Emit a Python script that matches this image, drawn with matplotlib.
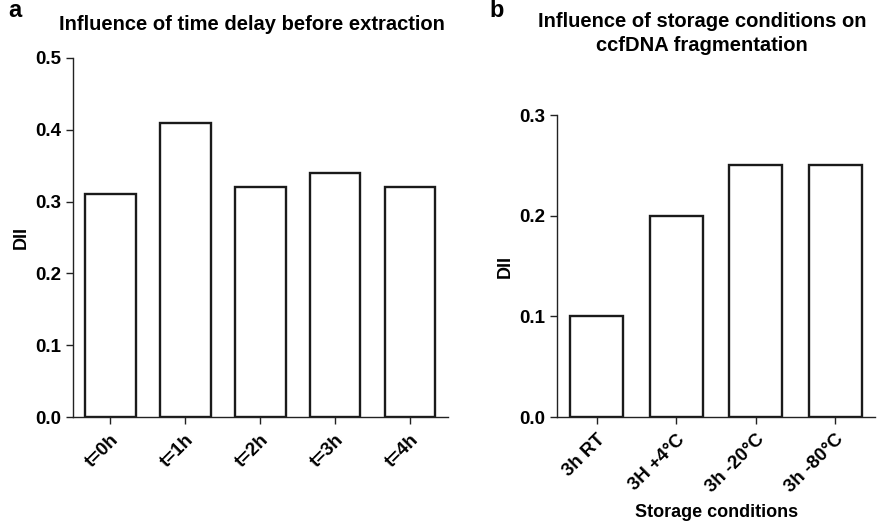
import numpy as np
import matplotlib.pyplot as plt

plt.rcParams['font.family'] = ['Liberation Sans', 'DejaVu Sans']
plt.rcParams['font.weight'] = 'bold'

# Dane
time_labels = ['t=0h', 't=1h', 't=2h', 't=3h', 't=4h']
time_dii = [0.31, 0.41, 0.32, 0.34, 0.32]

storage_labels = ['3h RT', '3H +4°C', '3h -20°C', '3h -80°C']
storage_dii = [0.10, 0.20, 0.25, 0.25]

fig = plt.figure(figsize=(8.86, 5.25), dpi=100)
ax1 = fig.add_axes([0.0824, 0.2057, 0.423, 0.684])
ax2 = fig.add_axes([0.6287, 0.2057, 0.359, 0.575])


def style(ax, labels, vals, ymax):
    x = np.arange(len(labels))
    ax.bar(x, vals, width=0.67, color='white', edgecolor='#1a1a1a', linewidth=1.7)
    ax.set_xlim(-0.5, len(labels) - 0.5)
    ax.set_ylim(0, ymax)
    ticks = np.arange(0, ymax + 0.01, 0.1)
    ax.set_yticks(ticks)
    ax.set_yticklabels([f'{v:.1f}' for v in ticks])
    ax.set_xticks(x)
    ax.set_xticklabels(labels, rotation=45, ha='right', rotation_mode='anchor')
    for s in ['top', 'right']:
        ax.spines[s].set_visible(False)
    for s in ['left', 'bottom']:
        ax.spines[s].set_linewidth(1.0)
        ax.spines[s].set_color('#222222')
    ax.tick_params(axis='both', labelsize=13.5, width=1.0, length=5, color='#222222')
    ax.tick_params(axis='x', pad=5)
    ax.set_ylabel('DII', fontsize=13, fontweight='bold', labelpad=4)


style(ax1, time_labels, time_dii, 0.5)
style(ax2, storage_labels, storage_dii, 0.3)

ax1.set_title('Influence of time delay before extraction', fontsize=14.5,
              fontweight='bold', pad=20, x=0.477)
ax2.set_title('Influence of storage conditions on\nccfDNA fragmentation', fontsize=14.5,
              fontweight='bold', pad=46, linespacing=1.35, x=0.455)
ax2.set_xlabel('Storage conditions', fontsize=13, fontweight='bold', labelpad=6)

fig.text(0.009, 0.967, 'a', fontsize=17, fontweight='bold')
fig.text(0.553, 0.967, 'b', fontsize=17, fontweight='bold')

plt.savefig('out.png', dpi=100)
